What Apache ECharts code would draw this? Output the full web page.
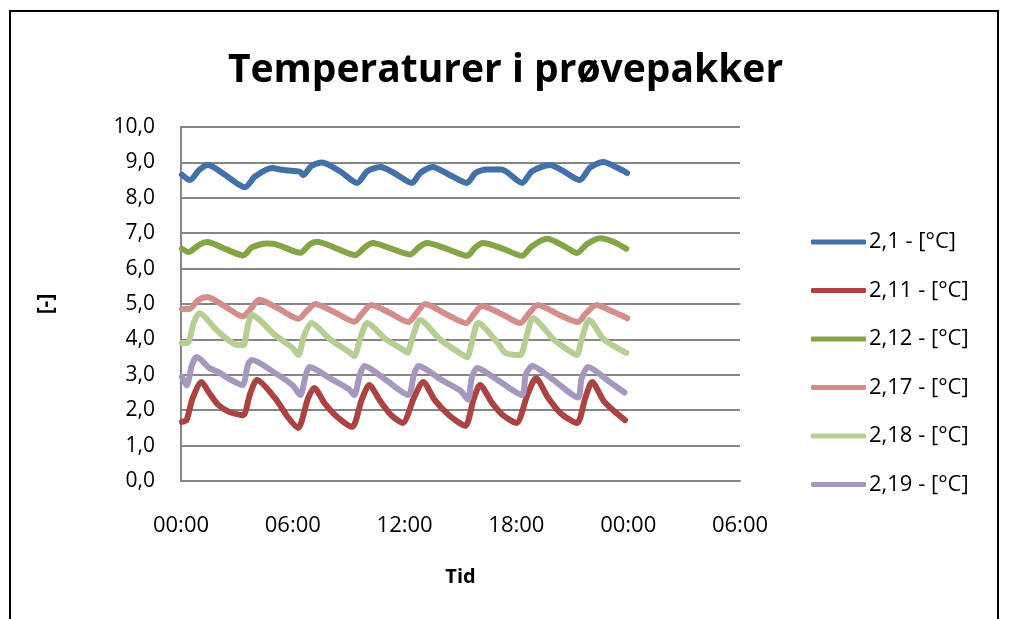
<!DOCTYPE html>
<html><head><meta charset="utf-8">
<script src="https://cdn.jsdelivr.net/npm/echarts@6/dist/echarts.min.js"></script>
<style>
html,body{margin:0;padding:0;background:#fff;}
#frame{position:absolute;left:9px;top:10px;width:990px;height:640px;border:2px solid #000;box-sizing:border-box;}
#chart{position:absolute;left:0;top:0;width:1011px;height:619px;}
</style></head>
<body>
<div id="frame"></div>
<div id="chart"></div>
<script>
// time in hours from start, value in °C
const s21 = [[0.05,8.65],[0.48,8.5],[1.0,8.8],[1.45,8.93],[2.36,8.65],[3.43,8.3],[3.97,8.6],[4.9,8.84],[5.3,8.8],[5.6,8.78],[6.0,8.76],[6.4,8.73],[6.55,8.64],[7.0,8.9],[7.57,9.0],[8.53,8.75],[9.45,8.42],[10.0,8.75],[10.7,8.87],[11.5,8.68],[12.4,8.42],[12.83,8.7],[13.5,8.87],[14.4,8.65],[15.35,8.42],[15.8,8.7],[16.4,8.8],[17.2,8.8],[18.3,8.42],[18.84,8.75],[19.8,8.93],[20.6,8.73],[21.4,8.5],[21.95,8.85],[22.65,9.01],[23.45,8.84],[23.94,8.7]];
const s211 = [[0.05,1.67],[0.3,1.72],[0.6,2.3],[1.1,2.8],[1.5,2.5],[2.0,2.15],[2.6,1.95],[3.33,1.86],[3.7,2.45],[4.08,2.85],[5.05,2.34],[5.74,1.8],[6.28,1.5],[6.82,2.34],[7.15,2.63],[7.7,2.2],[8.4,1.8],[9.18,1.53],[9.7,2.3],[10.1,2.71],[10.7,2.25],[11.3,1.85],[11.9,1.64],[12.5,2.35],[13.0,2.8],[13.6,2.3],[14.4,1.85],[15.25,1.56],[15.7,2.3],[16.05,2.71],[16.7,2.2],[17.3,1.85],[18.0,1.64],[18.6,2.45],[19.05,2.9],[19.7,2.35],[20.4,1.9],[21.25,1.64],[21.7,2.35],[22.06,2.8],[22.7,2.25],[23.3,1.95],[23.83,1.72]];
const s212 = [[0.05,6.56],[0.4,6.47],[1.0,6.68],[1.4,6.75],[2.4,6.55],[3.35,6.37],[3.8,6.6],[4.6,6.71],[5.0,6.7],[6.4,6.45],[6.9,6.68],[7.3,6.76],[8.3,6.58],[9.35,6.38],[9.9,6.62],[10.3,6.72],[11.2,6.58],[12.3,6.4],[12.8,6.62],[13.2,6.72],[14.3,6.55],[15.35,6.36],[15.8,6.6],[16.2,6.72],[17.2,6.58],[18.3,6.36],[18.8,6.62],[19.65,6.84],[20.6,6.62],[21.25,6.44],[21.8,6.7],[22.5,6.86],[23.2,6.76],[23.9,6.56]];
const s217 = [[0.05,4.86],[0.45,4.86],[0.9,5.1],[1.4,5.2],[2.4,4.92],[3.3,4.65],[3.65,4.8],[4.2,5.12],[5.2,4.88],[6.3,4.58],[6.75,4.8],[7.2,5.0],[8.3,4.75],[9.3,4.5],[9.75,4.75],[10.2,4.97],[11.2,4.75],[12.2,4.49],[12.65,4.75],[13.1,5.0],[14.2,4.72],[15.3,4.46],[15.7,4.7],[16.15,4.94],[17.2,4.72],[18.2,4.46],[18.65,4.72],[19.15,4.97],[20.2,4.72],[21.3,4.49],[21.75,4.75],[22.3,4.97],[23.1,4.8],[23.95,4.6]];
const s218 = [[0.05,3.9],[0.35,3.9],[0.7,4.5],[1.0,4.74],[1.9,4.27],[2.9,3.86],[3.35,3.84],[3.55,4.3],[3.8,4.69],[5.05,4.12],[6.0,3.75],[6.3,3.56],[6.6,4.1],[7.0,4.46],[8.0,4.0],[9.0,3.65],[9.3,3.53],[9.6,4.0],[10.0,4.46],[11.0,4.0],[12.0,3.68],[12.15,3.62],[12.45,4.1],[12.83,4.55],[13.9,4.0],[15.0,3.6],[15.35,3.5],[15.6,3.9],[15.95,4.46],[17.0,3.9],[17.4,3.62],[18.2,3.56],[18.5,4.0],[18.9,4.6],[20.0,4.0],[21.0,3.62],[21.25,3.56],[21.5,4.0],[21.9,4.55],[22.7,4.0],[23.9,3.62]];
const s219 = [[0.05,2.94],[0.3,2.7],[0.6,3.3],[0.85,3.5],[1.5,3.2],[2.0,3.08],[2.7,2.85],[3.3,2.71],[3.6,3.3],[3.8,3.42],[5.05,3.05],[6.0,2.7],[6.4,2.43],[6.7,3.0],[6.9,3.22],[8.0,2.9],[9.0,2.6],[9.3,2.43],[9.6,3.0],[9.85,3.25],[11.0,2.85],[12.2,2.43],[12.5,3.0],[12.75,3.25],[14.0,2.85],[15.0,2.55],[15.4,2.3],[15.6,2.9],[15.9,3.19],[17.0,2.85],[18.3,2.43],[18.5,3.0],[18.85,3.25],[20.0,2.85],[21.3,2.36],[21.5,2.9],[21.85,3.22],[23.0,2.8],[23.8,2.5]];

const seriesNames = ['2,1 - [°C]','2,11 - [°C]','2,12 - [°C]','2,17 - [°C]','2,18 - [°C]','2,19 - [°C]'];
const seriesData = [s21, s211, s212, s217, s218, s219];
const colors = ['#4470A8','#A94442','#84A446','#D38E8C','#B6CD94','#A597BE'];

const chart = echarts.init(document.getElementById('chart'));
const font = "'Open Sans', 'Liberation Sans', sans-serif";
chart.setOption({
  animation:false,
  title:{text:'Temperaturer i prøvepakker',left:'center',top:46,
    textStyle:{fontSize:39,fontWeight:'bold',color:'#000',fontFamily:font}},
  grid:{left:181,top:127,right:271,bottom:138},
  legend:{orient:'vertical',left:806,top:226,itemGap:26.5,itemWidth:55,itemHeight:5,
    icon:'roundRect',data:seriesNames,
    textStyle:{fontSize:22,color:'#000',fontFamily:font,padding:[0,0,0,-2]}},
  xAxis:{type:'value',min:0,max:30,interval:6,
    name:'Tid',nameLocation:'middle',nameGap:86,
    nameTextStyle:{fontSize:20,fontWeight:'bold',color:'#000',fontFamily:font},
    axisLine:{lineStyle:{color:'#868686',width:2}},
    axisTick:{show:false},
    splitLine:{show:false},
    axisLabel:{fontSize:22,color:'#000',fontFamily:font,margin:34,
      formatter:v=>String(Math.round(v)%24).padStart(2,'0')+':00'}},
  yAxis:{type:'value',min:0,max:10,interval:1,
    name:'[-]',nameLocation:'middle',nameGap:124,
    nameTextStyle:{fontSize:21,fontWeight:'bold',color:'#000',fontFamily:font},
    axisLine:{show:true,lineStyle:{color:'#868686',width:2}},
    axisTick:{show:false},
    splitLine:{lineStyle:{color:'#868686',width:2}},
    axisLabel:{fontSize:21,color:'#000',fontFamily:font,margin:26,
      formatter:v=>v.toFixed(1).replace('.',',')}},
  series: seriesData.map((d,i)=>({
    name:seriesNames[i],type:'line',data:d,showSymbol:false,smooth:0.25,
    lineStyle:{width:6,color:colors[i],cap:'round',join:'round'},
    itemStyle:{color:colors[i]}
  }))
});
</script>
</body></html>
